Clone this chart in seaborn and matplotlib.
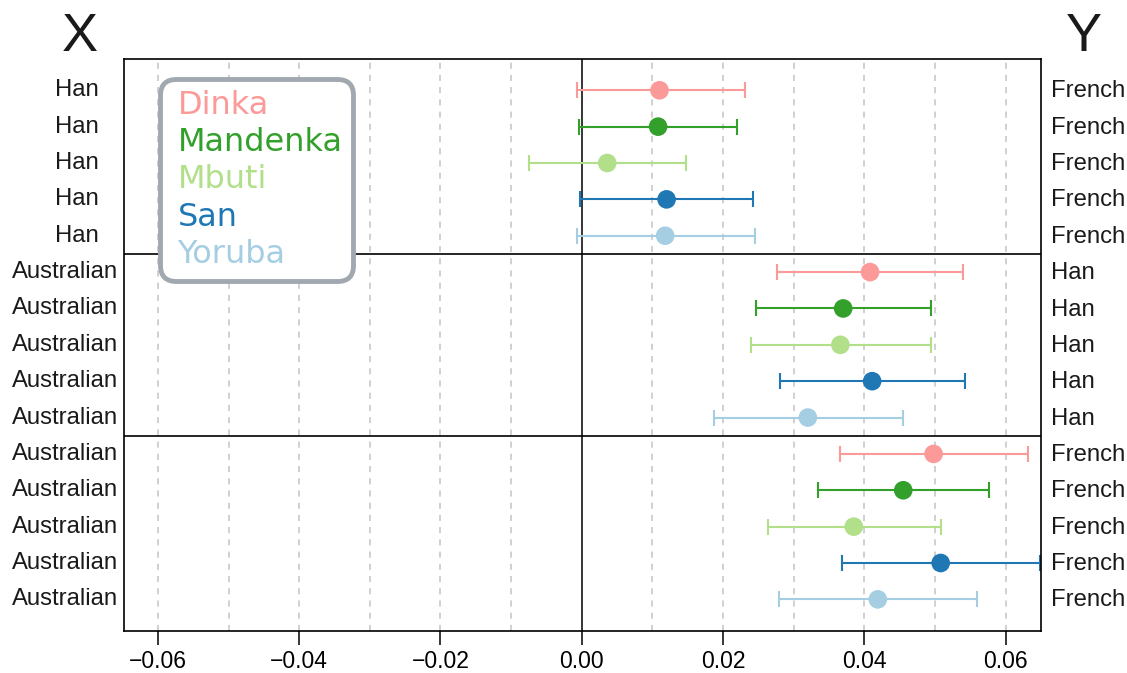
import matplotlib
matplotlib.use("Agg")
import matplotlib.pyplot as plt
import matplotlib.transforms as mtransforms
import seaborn as sns
import pandas as pd
import numpy as np

# ---- data ----
populations = ["Dinka", "Mandenka", "Mbuti", "San", "Yoruba"]
colors = ["#fb9a99", "#33a02c", "#b2df8a", "#1f78b4", "#a6cee3"]
left_labels = ["Han"] * 5 + ["Australian"] * 10
right_labels = ["French"] * 5 + ["Han"] * 5 + ["French"] * 5

# group 1: Han vs French
g1_est = [0.0110, 0.0108, 0.0036, 0.0120, 0.0118]
g1_lo = [-0.0007, -0.0004, -0.0075, -0.0003, -0.0007]
g1_hi = [0.0231, 0.0220, 0.0147, 0.0243, 0.0245]
# group 2: Australian vs Han
g2_est = [0.0408, 0.0370, 0.0366, 0.0411, 0.0320]
g2_lo = [0.0277, 0.0247, 0.0239, 0.0280, 0.0187]
g2_hi = [0.0539, 0.0494, 0.0494, 0.0543, 0.0454]
# group 3: Australian vs French
g3_est = [0.0498, 0.0455, 0.0385, 0.0508, 0.0419]
g3_lo = [0.0365, 0.0334, 0.0263, 0.0369, 0.0279]
g3_hi = [0.0632, 0.0577, 0.0508, 0.0648, 0.0559]

xticks = [-0.06, -0.04, -0.02, 0.00, 0.02, 0.04, 0.06]
xtick_labels = ["\u22120.06", "\u22120.04", "\u22120.02", "0.00", "0.02", "0.04", "0.06"]

df = pd.DataFrame({
    "pop": populations * 3,
    "est": g1_est + g2_est + g3_est,
    "lo": g1_lo + g2_lo + g3_lo,
    "hi": g1_hi + g2_hi + g3_hi,
})
df["row"] = np.arange(len(df))

# ---- style ----
sns.set_style("white")
plt.rcParams["font.family"] = ["Liberation Sans", "DejaVu Sans"]

fig = plt.figure(figsize=(11.27, 6.73), dpi=100)
ax = fig.add_axes([124 / 1127, 1 - 631 / 673, (1041 - 124) / 1127, (631 - 59) / 673])

# grid lines every 0.01
for gx in np.arange(-0.06, 0.0651, 0.01):
    if abs(gx) < 1e-9:
        ax.axvline(0, color="black", lw=1.1, zorder=1)
    else:
        ax.axvline(gx, color="#c4c4c4", lw=1.1, ls=(0, (4, 4)), zorder=1)

# separators between groups
ax.axhline(4.5, color="black", lw=1.2, zorder=1)
ax.axhline(9.5, color="black", lw=1.2, zorder=1)

pal = dict(zip(populations, colors))
for _, r in df.iterrows():
    ax.errorbar(r["est"], r["row"], xerr=[[r["est"] - r["lo"]], [r["hi"] - r["est"]]],
                fmt="none", ecolor=pal[r["pop"]], elinewidth=1.5, capsize=5.8,
                capthick=1.5, zorder=2)

sns.scatterplot(data=df, x="est", y="row", hue="pop", palette=pal, s=180,
                edgecolor="none", legend=False, ax=ax, zorder=3)

ax.set_xlim(-0.0648, 0.065)
ax.set_ylim(14.87, -0.86)
ax.set_xlabel("")
ax.set_ylabel("")
ax.set_yticks([])
ax.set_xticks(xticks)
ax.set_xticklabels(xtick_labels)
ax.tick_params(axis="x", direction="out", length=10, width=1.1, labelsize=16.5,
               pad=4, bottom=True, colors="black")
for s in ax.spines.values():
    s.set_color("black")
    s.set_linewidth(1.2)

# side labels
trans_left = mtransforms.blended_transform_factory(fig.transFigure, ax.transData)
for i, lab in enumerate(left_labels):
    xc = 76.5 if lab == "Han" else 65
    ax.text(xc / 1127, i, lab, transform=trans_left, ha="center", va="center",
            fontsize=17.2, color="#1a1a1a")
for i, lab in enumerate(right_labels):
    ax.text(1051 / 1127, i + 0.03, lab, transform=trans_left, ha="left", va="center",
            fontsize=17.2, color="#1a1a1a")

fig.text(80 / 1127, 1 - 37 / 673, "X", ha="center", va="center", fontsize=39, color="#1a1a1a")
fig.text(1084 / 1127, 1 - 37 / 673, "Y", ha="center", va="center", fontsize=39, color="#1a1a1a")

# legend with coloured text only
handles = [plt.Line2D([], [], ls="none", marker=None) for _ in populations]
leg = ax.legend(handles, populations, loc="upper left", bbox_to_anchor=(36 / 917, 1 - 20 / 572),
                handlelength=0.22, handletextpad=0, frameon=True, fancybox=True,
                prop={"family": "DejaVu Sans", "size": 23}, labelspacing=0.2,
                borderpad=0.33, borderaxespad=0)
for t, c in zip(leg.get_texts(), colors):
    t.set_color(c)
frame = leg.get_frame()
frame.set_edgecolor("#a2a8b0")
frame.set_linewidth(3.5)
frame.set_facecolor("white")
frame.set_alpha(1)
frame.set_boxstyle("round", pad=0, rounding_size=0.5)
leg.set_zorder(5)

fig.savefig("out.png", dpi=100)
